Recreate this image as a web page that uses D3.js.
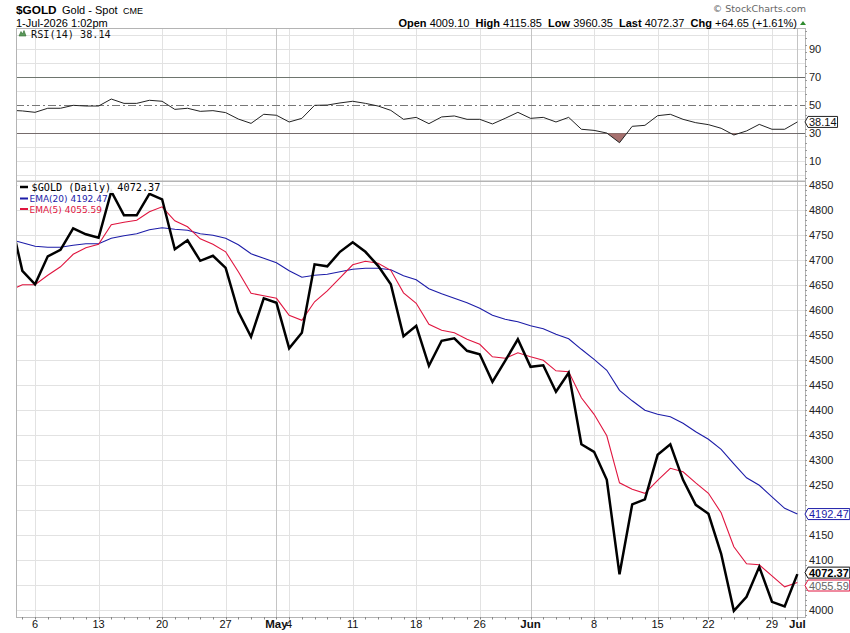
<!DOCTYPE html>
<html>
<head>
<meta charset="utf-8">
<script src="https://cdn.jsdelivr.net/npm/d3@7"></script>
<style>
  body { margin: 0; background: #fff; }
  text { white-space: pre; }
</style>
</head>
<body>
<div id="chart-container"></div>
<script>
// trading days shown (Apr 1 sits just left of the plot and is clipped)
const dates = [
  "2026-04-01","2026-04-02","2026-04-06","2026-04-07","2026-04-08","2026-04-09","2026-04-10",
  "2026-04-13","2026-04-14","2026-04-15","2026-04-16","2026-04-17",
  "2026-04-20","2026-04-21","2026-04-22","2026-04-23","2026-04-24",
  "2026-04-27","2026-04-28","2026-04-29","2026-04-30","2026-05-01",
  "2026-05-04","2026-05-05","2026-05-06","2026-05-07","2026-05-08",
  "2026-05-11","2026-05-12","2026-05-13","2026-05-14","2026-05-15",
  "2026-05-18","2026-05-19","2026-05-20","2026-05-21","2026-05-22",
  "2026-05-26","2026-05-27","2026-05-28","2026-05-29",
  "2026-06-01","2026-06-02","2026-06-03","2026-06-04","2026-06-05",
  "2026-06-08","2026-06-09","2026-06-10","2026-06-11","2026-06-12",
  "2026-06-15","2026-06-16","2026-06-17","2026-06-18",
  "2026-06-22","2026-06-23","2026-06-24","2026-06-25","2026-06-26",
  "2026-06-29","2026-06-30","2026-07-01"
]

const closes = [
  4790,4679,4652,4708,4721,4764,4752,
  4745,4838,4790,4790,4833,
  4822,4722,4740,4699,4709,
  4685,4597,4547,4624,4615,
  4524,4555,4692,4688,4717,
  4736,4717,4689,4652,4548,
  4569,4489,4539,4544,4519,
  4512,4457,4499,4542,
  4487,4490,4437,4475,4332,
  4317,4261,4072,4212,4222,
  4311,4332,4261,4211,
  4193,4113,3999,4027,4087,
  4017,4007.72,4072.37
]

const ema20 = [
  4742,4735,4728,4726,4726,4730,4733,
  4733,4744,4749,4753,4761,
  4765,4762,4760,4753,4750,
  4744,4731,4713,4704,4695,
  4679,4666,4670,4672,4677,
  4682,4684,4684,4681,4669,
  4661,4643,4633,4624,4615,
  4604,4590,4582,4577,
  4569,4563,4552,4543,4522,
  4502,4480,4440,4419,4400,
  4392,4387,4374,4357,
  4342,4322,4293,4265,4250,
  4227,4204,4192.47
]

const ema5 = [
  4640,4651,4651,4670,4687,4712,4725,
  4732,4771,4776,4780,4797,
  4807,4779,4767,4743,4732,
  4717,4677,4634,4629,4624,
  4590,4580,4617,4639,4665,
  4691,4698,4694,4680,4635,
  4614,4572,4560,4555,4542,
  4532,4507,4504,4515,
  4507,4500,4479,4477,4425,
  4392,4349,4255,4242,4234,
  4260,4284,4277,4255,
  4234,4195,4127,4093,4091,
  4069,4047,4055.59
]

const rsi14 = [
  46.5,46.0,45.0,47.9,47.9,50.0,49.5,
  49.5,54.5,51.4,51.4,53.6,
  52.9,47.1,47.9,45.7,46.2,
  44.8,40.2,37.1,43.6,42.9,
  38.1,40.7,50.0,50.2,51.7,
  52.9,51.4,49.5,46.4,40.0,
  41.4,36.9,41.7,42.4,40.0,
  40.0,36.7,40.7,45.0,
  40.7,41.4,38.1,41.4,32.9,
  32.1,30.2,23.3,35.0,35.7,
  42.6,43.6,40.0,37.6,
  36.2,33.6,28.8,31.7,36.4,
  32.9,32.9,38.14
]

const tickDates = ["2026-04-06","2026-04-13","2026-04-20","2026-04-27","2026-05-01","2026-05-04",
  "2026-05-11","2026-05-18","2026-05-26","2026-06-01","2026-06-08","2026-06-15","2026-06-22",
  "2026-06-29","2026-07-01"]
const tickLabels = ["6","13","20","27","May","4","11","18","26","Jun","8","15","22","29","Jul"]

const priceTicks = [4000,4050,4100,4150,4200,4250,4300,4350,4400,4450,4500,4550,4600,4650,4700,4750,4800,4850]
const rsiTicks = [10,30,50,70,90]
const rsiGrid = [0,10,20,30,40,50,60,70,80,90,100]

const drawChart = (w, h) => {
  const L = 16, R = 805
  const rsiTop = 28.5, rsiBot = 181, priceTop = 181, priceBot = 617

  const svg = d3.select('#chart-container')
    .append('svg')
    .attr('width', w)
    .attr('height', h)
    .style('font-family', 'Arial, "Liberation Sans", sans-serif')

  const xScale = d3.scaleLinear().domain([0.5, 62.6]).range([L, R])
  const yPrice = d3.scaleLinear().domain([3986.6, 4858.6]).range([priceBot, priceTop])
  const yRsi = d3.scaleLinear().domain([-4.07, 104.9]).range([rsiBot, rsiTop])

  const defs = svg.append('defs')
  defs.append('clipPath').attr('id', 'clip-price')
    .append('rect').attr('x', L).attr('y', priceTop).attr('width', R - L).attr('height', priceBot - priceTop)
  defs.append('clipPath').attr('id', 'clip-rsi')
    .append('rect').attr('x', L).attr('y', rsiTop).attr('width', R - L).attr('height', rsiBot - rsiTop)
  defs.append('clipPath').attr('id', 'clip-rsi-low')
    .append('rect').attr('x', L).attr('y', yRsi(30)).attr('width', R - L).attr('height', rsiBot - yRsi(30))
  defs.append('clipPath').attr('id', 'clip-rsi-high')
    .append('rect').attr('x', L).attr('y', rsiTop).attr('width', R - L).attr('height', yRsi(70) - rsiTop)

  const idx = d3.range(dates.length)
  const dateIndex = new Map(dates.map((d, i) => [d, i]))
  const last = dates.length - 1

  // horizontal grid
  svg.append('g').selectAll('line')
    .data(priceTicks).enter().append('line')
    .attr('x1', L).attr('x2', R)
    .attr('y1', d => Math.round(yPrice(d)) + 0.5).attr('y2', d => Math.round(yPrice(d)) + 0.5)
    .attr('stroke', '#e2e2e2')
  svg.append('g').selectAll('line')
    .data(rsiGrid.filter(d => ![30, 50, 70].includes(d))).enter().append('line')
    .attr('x1', L).attr('x2', R)
    .attr('y1', d => Math.round(yRsi(d)) + 0.5).attr('y2', d => Math.round(yRsi(d)) + 0.5)
    .attr('stroke', '#e2e2e2')

  // vertical grid
  const ticks = tickDates.map((d, i) => ({ i: dateIndex.get(d), label: tickLabels[i], month: isNaN(+tickLabels[i]) }))
  const vg = svg.append('g')
  ticks.forEach(t => {
    const x = Math.round(xScale(t.i)) + 0.5
    ;[[rsiTop, rsiBot], [priceTop, priceBot]].forEach(([a, b]) => {
      vg.append('line').attr('x1', x).attr('x2', x).attr('y1', a).attr('y2', b)
        .attr('stroke', t.month ? '#c4c4c4' : '#e2e2e2')
    })
  })

  // RSI reference lines
  svg.append('line').attr('x1', L).attr('x2', R)
    .attr('y1', Math.round(yRsi(70)) + 0.5).attr('y2', Math.round(yRsi(70)) + 0.5).attr('stroke', '#6a6a6a')
  svg.append('line').attr('x1', L).attr('x2', R)
    .attr('y1', Math.round(yRsi(30)) + 0.5).attr('y2', Math.round(yRsi(30)) + 0.5).attr('stroke', '#6a6a6a')
  svg.append('line').attr('x1', L).attr('x2', R)
    .attr('y1', Math.round(yRsi(50)) + 0.5).attr('y2', Math.round(yRsi(50)) + 0.5)
    .attr('stroke', '#777').attr('stroke-dasharray', '8,3,2,3')

  // RSI fills
  const rsiLow = d3.area().x(i => xScale(i)).y0(yRsi(30)).y1(i => yRsi(rsi14[i]))
  svg.append('path').datum(idx).attr('d', rsiLow)
    .attr('clip-path', 'url(#clip-rsi-low)').attr('fill', '#a7716f')
  const rsiHigh = d3.area().x(i => xScale(i)).y0(yRsi(70)).y1(i => yRsi(rsi14[i]))
  svg.append('path').datum(idx).attr('d', rsiHigh)
    .attr('clip-path', 'url(#clip-rsi-high)').attr('fill', '#7fa77f')

  // RSI line
  svg.append('path').datum(idx)
    .attr('d', d3.line().x(i => xScale(i)).y(i => yRsi(rsi14[i])))
    .attr('clip-path', 'url(#clip-rsi)')
    .attr('fill', 'none').attr('stroke', '#222').attr('stroke-width', 1)

  // price + EMAs
  const gp = svg.append('g').attr('clip-path', 'url(#clip-price)')
  gp.append('path').datum(idx)
    .attr('d', d3.line().x(i => xScale(i)).y(i => yPrice(ema20[i])))
    .attr('fill', 'none').attr('stroke', '#1c1ca8').attr('stroke-width', 1.1)
  gp.append('path').datum(idx)
    .attr('d', d3.line().x(i => xScale(i)).y(i => yPrice(ema5[i])))
    .attr('fill', 'none').attr('stroke', '#e0153f').attr('stroke-width', 1.1)
  gp.append('path').datum(idx)
    .attr('d', d3.line().x(i => xScale(i)).y(i => yPrice(closes[i])))
    .attr('fill', 'none').attr('stroke', '#000').attr('stroke-width', 2.5)
    .attr('stroke-linejoin', 'miter')

  // frames
  svg.append('rect').attr('x', L + 0.5).attr('y', rsiTop).attr('width', R - L).attr('height', rsiBot - rsiTop)
    .attr('fill', 'none').attr('stroke', '#b4b4b4')
  svg.append('rect').attr('x', L + 0.5).attr('y', priceTop + 0.5).attr('width', R - L).attr('height', priceBot - priceTop)
    .attr('fill', 'none').attr('stroke', '#b4b4b4')

  // x axis ticks and labels
  const xa = svg.append('g')
  idx.filter(i => xScale(i) >= L && xScale(i) <= R).forEach(i => {
    const x = Math.round(xScale(i)) + 0.5
    xa.append('line').attr('x1', x).attr('x2', x).attr('y1', priceBot).attr('y2', priceBot + 2.5).attr('stroke', '#888')
  })
  ticks.forEach(t => {
    xa.append('text')
      .attr('x', xScale(t.i)).attr('y', 628)
      .attr('text-anchor', 'middle')
      .attr('font-size', t.month ? 11.5 : 11)
      .attr('font-weight', t.month ? 'bold' : 'normal')
      .attr('fill', '#111')
      .text(t.label)
  })

  // right axes
  const ya = svg.append('g')
  d3.range(3990, 4860, 10).forEach(v => {
    const y = Math.round(yPrice(v)) + 0.5
    if (y > priceTop && y < priceBot) ya.append('line').attr('x1', R).attr('x2', R + 2).attr('y1', y).attr('y2', y).attr('stroke', '#999')
  })
  d3.range(-2, 106, 5).forEach(v => {
    const y = Math.round(yRsi(v)) + 0.5
    if (y > rsiTop && y < rsiBot) ya.append('line').attr('x1', R).attr('x2', R + 2).attr('y1', y).attr('y2', y).attr('stroke', '#999')
  })
  // labels that sit under a value tag are hidden, as on the original
  const tagValues = [ema20[last], ema5[last], closes[last]]
  const visiblePrice = priceTicks.filter(d => tagValues.every(v => Math.abs(yPrice(v) - yPrice(d)) > 9))
  ya.selectAll('.pl').data(visiblePrice).enter().append('text')
    .attr('x', R + 4).attr('y', d => yPrice(d) + 4)
    .attr('font-size', 11).attr('fill', '#222').text(d => d)
  ya.selectAll('.rl').data(rsiTicks).enter().append('text')
    .attr('x', R + 4).attr('y', d => yRsi(d) + 4)
    .attr('font-size', 11).attr('fill', '#222').text(d => d)

  // value tags on the right axis
  const tag = (y, label, stroke, color, bold) => {
    const g = svg.append('g')
    const t = g.append('text').attr('x', R + 4).attr('y', y + 4)
      .attr('font-size', 11).attr('font-weight', bold ? 'bold' : 'normal').attr('fill', color).text(label)
    const tw = t.node().getComputedTextLength()
    const x0 = R, x1 = R + 3, x2 = R + 5 + tw
    g.insert('path', 'text')
      .attr('d', `M${x0},${y} L${x1},${y - 5.5} L${x2},${y - 5.5} L${x2},${y + 5.5} L${x1},${y + 5.5} Z`)
      .attr('fill', '#fff').attr('stroke', stroke).attr('stroke-width', 1)
  }
  tag(yRsi(rsi14[last]), rsi14[last].toFixed(2), '#222', '#111', false)
  tag(yPrice(ema20[last]), ema20[last].toFixed(2), '#1c1ca8', '#1c1ca8', false)
  tag(yPrice(ema5[last]) + 3, ema5[last].toFixed(2), '#e0153f', '#666', false)
  tag(yPrice(closes[last]) - 1.5, closes[last].toFixed(2), '#111', '#000', true)

  // RSI legend
  svg.append('path').attr('d', 'M19,36 L21,31.5 L22.5,34 L24,30.5 L26,36 Z')
    .attr('fill', '#5c9a5c').attr('stroke', '#2f6b2f').attr('stroke-width', 0.6)
  svg.append('text').attr('x', 31).attr('y', 38)
    .attr('font-family', '"DejaVu Sans Mono", monospace').attr('font-size', 10.2).attr('fill', '#111')
    .text(`RSI(14) ${rsi14[last].toFixed(2)}`)

  // price legend
  const lg = svg.append('g')
  lg.append('rect').attr('x', 18).attr('y', 183).attr('width', 144).attr('height', 10).attr('fill', '#fff').attr('opacity', 0.9)
  const legendRows = [
    { label: `$GOLD (Daily) ${closes[last].toFixed(2)}`, color: '#000', y: 190.5, mono: true, sw: 2.5 },
    { label: `EMA(20) ${ema20[last].toFixed(2)}`, color: '#1c1ca8', y: 202, mono: false, sw: 2 },
    { label: `EMA(5) ${ema5[last].toFixed(2)}`, color: '#e0153f', y: 212.5, mono: false, sw: 2 }
  ]
  legendRows.forEach(r => {
    lg.append('line').attr('x1', 20).attr('x2', 28).attr('y1', r.y - 3.5).attr('y2', r.y - 3.5)
      .attr('stroke', r.color).attr('stroke-width', r.sw)
    lg.append('text').attr('x', r.mono ? 31.5 : 29.5).attr('y', r.y)
      .attr('font-family', r.mono ? '"DejaVu Sans Mono", monospace' : '"DejaVu Sans", sans-serif')
      .attr('font-size', r.mono ? 10.2 : 9).attr('fill', r.color)
      .text(r.label)
  })

  // header
  svg.append('text').attr('x', 16).attr('y', 14)
    .attr('font-size', 11.8).attr('font-weight', 'bold').attr('fill', '#000')
    .text('$GOLD')
  svg.append('text').attr('x', 62).attr('y', 13.5).attr('font-size', 11).attr('fill', '#000').text('Gold - Spot')
  svg.append('text').attr('x', 123).attr('y', 13.5).attr('font-size', 9).attr('fill', '#000').text('CME')
  svg.append('text').attr('x', 16).attr('y', 26.5).attr('font-size', 11).attr('fill', '#000').text('1-Jul-2026 1:02pm')
  svg.append('text').attr('x', 806).attr('y', 12).attr('text-anchor', 'end')
    .attr('font-family', '"DejaVu Sans", sans-serif').attr('font-size', 9.5).attr('fill', '#666')
    .text('\u00A9 StockCharts.com')

  const quote = [
    ['Open', ' 4009.10  '], ['High', ' 4115.85  '], ['Low', ' 3960.35  '],
    ['Last', ' 4072.37  '], ['Chg', ' +64.65 (+1.61%)']
  ]
  const qt = svg.append('text').attr('x', 797).attr('y', 26.5).attr('text-anchor', 'end')
    .attr('font-size', 11).attr('fill', '#000')
  quote.forEach(([k, v]) => {
    qt.append('tspan').attr('font-weight', 'bold').text(k)
    qt.append('tspan').text(v)
  })
  svg.append('path').attr('d', 'M800,25 L803,21 L806,25 Z').attr('fill', '#2e8b2e')
}

drawChart(850, 633)
</script>
</body>
</html>
